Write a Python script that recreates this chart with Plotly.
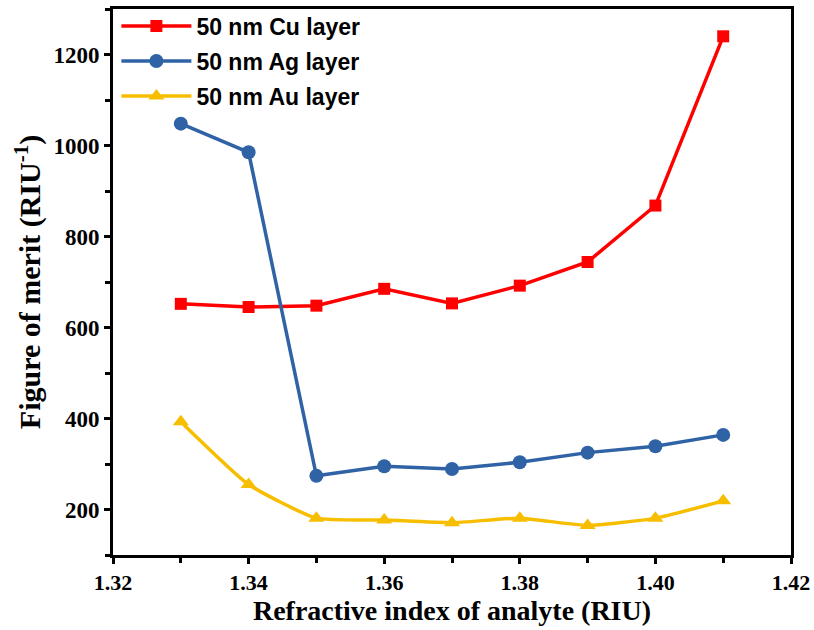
import plotly.graph_objects as go

x_vals = [1.33, 1.34, 1.35, 1.36, 1.37, 1.38, 1.39, 1.40, 1.41]
cu_fom = [652, 645, 648, 685, 653, 692, 744, 868, 1240]
ag_fom = [1048, 985, 274, 295, 289, 304, 325, 339, 364]
au_fom = [393, 255, 181, 177, 171, 181, 165, 181, 219]

x_ticks = [1.32, 1.34, 1.36, 1.38, 1.40, 1.42]
y_ticks = [200, 400, 600, 800, 1000, 1200]

fig = go.Figure()
fig.add_trace(go.Scatter(x=x_vals, y=cu_fom, name="50 nm Cu layer", mode="lines+markers",
                         legendgroup="cu",
                         line=dict(color="#FF0000", width=3.5),
                         marker=dict(symbol="square", size=12, color="#FF0000")))
fig.add_trace(go.Scatter(x=x_vals, y=ag_fom, name="50 nm Ag layer", mode="lines+markers",
                         legendgroup="ag",
                         line=dict(color="#2F63A6", width=3.5),
                         marker=dict(symbol="circle", size=14, color="#2F63A6")))
fig.add_trace(go.Scatter(x=x_vals, y=au_fom, name="50 nm Au layer", mode="lines+markers",
                         legendgroup="au",
                         line=dict(color="#F7BE00", width=3.5, shape="spline", smoothing=0.5),
                         marker=dict(symbol="triangle-up", size=14, color="#F7BE00")))

axis_common = dict(showline=True, linecolor="black", linewidth=3, mirror=True,
                   ticks="outside", ticklen=6, tickwidth=3, tickcolor="black",
                   showgrid=False, zeroline=False)

fig.update_xaxes(range=[1.32, 1.42], tickvals=x_ticks, ticktext=[f"<b>{v:.2f}</b>" for v in x_ticks],
                 tickfont=dict(family="Liberation Serif", size=22, color="black"),
                 minor=dict(ticks="outside", ticklen=5, tickwidth=3, tickcolor="black", dtick=0.01, showgrid=False),
                 title=dict(text="<b>Refractive index of analyte (RIU)</b>",
                            font=dict(family="Liberation Serif", size=28, color="black"), standoff=0),
                 **axis_common)
fig.update_yaxes(range=[100, 1300], tickvals=y_ticks, ticktext=[f"<b>{v}</b>" for v in y_ticks],
                 tickfont=dict(family="Liberation Serif", size=23, color="black"),
                 minor=dict(ticks="outside", ticklen=5, tickwidth=3, tickcolor="black", dtick=100, showgrid=False),
                 title=dict(text="<b>Figure of merit (RIU<sup>-1</sup>)</b>",
                            font=dict(family="Liberation Serif", size=30, color="black"), standoff=4),
                 **axis_common)

fig.update_layout(width=814, height=630, plot_bgcolor="white", paper_bgcolor="white",
                  margin=dict(l=113, r=23, t=9, b=75, autoexpand=False),
                  legend=dict(x=0.005, y=1.008, xanchor="left", yanchor="top",
                              bgcolor="rgba(0,0,0,0)", itemwidth=70, tracegroupgap=2,
                              font=dict(family="Liberation Sans", size=23, color="black", weight="bold")),
                  showlegend=True)

fig.write_html("out.html")
